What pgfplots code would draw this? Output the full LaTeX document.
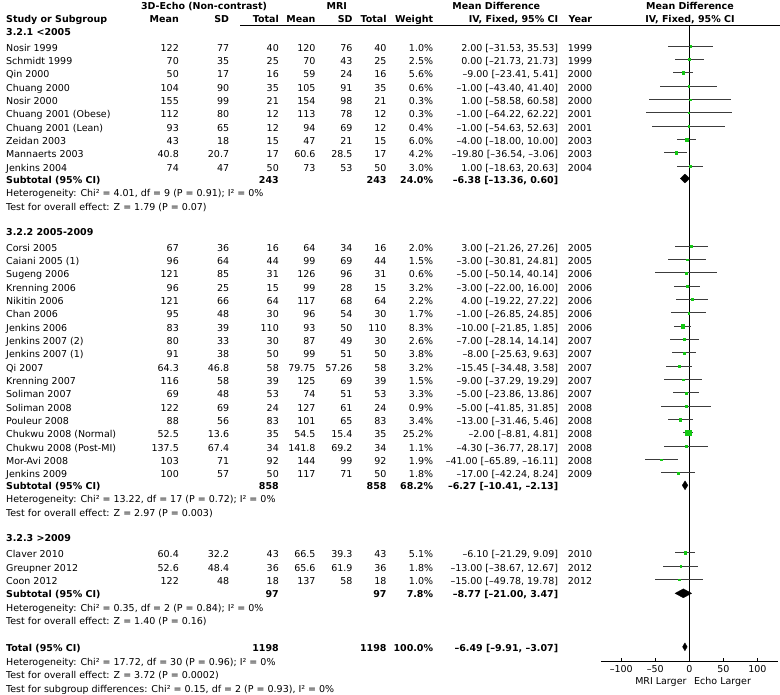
\documentclass[border=0pt]{standalone}
\usepackage{fontspec}
\setmainfont{DejaVu Sans}
\usepackage{pgfplots}
\pgfplotsset{compat=1.18}
\usepackage{pgfplotstable}
\definecolor{mkgreen}{RGB}{20,200,20}
\definecolor{cigray}{RGB}{60,60,60}

% y = row position (pixels from top), md = mean difference, lo/hi = 95% CI, w = weight (%)
\pgfplotstableread{
y md lo hi w
46.2 2.00 -31.53 35.53 1.0
59.5 0.00 -21.73 21.73 2.5
72.8 -9.00 -23.41 5.41 5.6
86.2 -1.00 -43.40 41.40 0.6
99.5 1.00 -58.58 60.58 0.3
112.8 -1.00 -64.22 62.22 0.3
126.2 -1.00 -54.63 52.63 0.4
139.5 -4.00 -18.00 10.00 6.0
152.8 -19.80 -36.54 -3.06 4.2
166.2 1.00 -18.63 20.63 3.0
246.2 3.00 -21.26 27.26 2.0
259.5 -3.00 -30.81 24.81 1.5
272.8 -5.00 -50.14 40.14 0.6
286.2 -3.00 -22.00 16.00 3.2
299.5 4.00 -19.22 27.22 2.2
312.8 -1.00 -26.85 24.85 1.7
326.2 -10.00 -21.85 1.85 8.3
339.5 -7.00 -28.14 14.14 2.6
352.8 -8.00 -25.63 9.63 3.8
366.2 -15.45 -34.48 3.58 3.2
379.5 -9.00 -37.29 19.29 1.5
392.8 -5.00 -23.86 13.86 3.3
406.2 -5.00 -41.85 31.85 0.9
419.5 -13.00 -31.46 5.46 3.4
432.8 -2.00 -8.81 4.81 25.2
446.2 -4.30 -36.77 28.17 1.1
459.5 -41.00 -65.89 -16.11 1.9
472.8 -17.00 -42.24 8.24 1.8
552.8 -6.10 -21.29 9.09 5.1
566.2 -13.00 -38.67 12.67 1.8
579.5 -15.00 -49.78 19.78 1.0
}\studies

\newcommand\fs{\fontsize{9.5bp}{11bp}\selectfont}
\newcommand\Lt[3]{\node[anchor=base west] at ({#1},{-(#2)-3.5}) {#3};}
\newcommand\Rt[3]{\node[anchor=base east] at ({#1},{-(#2)-3.5}) {#3};}
\newcommand\Ct[3]{\node[anchor=base] at ({#1},{-(#2)-3.5}) {#3};}
\newcommand\st[8]{\Lt{6}{#1}{#2}\Rt{179}{#1}{#3}\Rt{229.3}{#1}{#4}\Rt{279}{#1}{#5}\Rt{315.7}{#1}{#6}\Rt{352.7}{#1}{#7}\Rt{386.7}{#1}{#8}}
\newcommand\sw[4]{\Rt{433.3}{#1}{#2}\Rt{558.3}{#1}{#3}\Rt{592.3}{#1}{#4}}
\newcommand\sub[5]{\Lt{6}{#1}{\bfseries #2}\Rt{279}{#1}{\bfseries #3}\Rt{386.7}{#1}{\bfseries #3}\Rt{433.3}{#1}{\bfseries #4}\Rt{558.3}{#1}{\bfseries #5}}

\begin{document}
\begin{tikzpicture}[x=1bp,y=1bp,every node/.style={inner sep=0pt,font=\fs}]
\path[use as bounding box] (0,0) rectangle (780,-695);

% headers
\Ct{204}{5.7}{\bfseries 3D-Echo (Non-contrast)}
\Ct{336.7}{5.7}{\bfseries MRI}
\Ct{496.3}{5.7}{\bfseries Mean Difference}
\Ct{690}{5.7}{\bfseries Mean Difference}
\Lt{6}{19}{\bfseries Study or Subgroup}
\Rt{179}{19}{\bfseries Mean}
\Rt{229.3}{19}{\bfseries SD}
\Rt{279}{19}{\bfseries Total}
\Rt{315.7}{19}{\bfseries Mean}
\Rt{352.7}{19}{\bfseries SD}
\Rt{386.7}{19}{\bfseries Total}
\Rt{433.3}{19}{\bfseries Weight}
\Rt{558.3}{19}{\bfseries IV, Fixed, 95\% CI}
\Rt{592.3}{19}{\bfseries Year}
\Ct{690}{19}{\bfseries IV, Fixed, 95\% CI}
\draw[black, line width=0.8bp] (240,-25.7) -- (780,-25.7);

% group 1
\Lt{6}{32.3}{\bfseries 3.2.1 <2005}
\st{47.7}{Nosir 1999}{122}{77}{40}{120}{76}{40}\sw{47.7}{1.0\%}{2.00 [–31.53, 35.53]}{1999}
\st{61.0}{Schmidt 1999}{70}{35}{25}{70}{43}{25}\sw{61.0}{2.5\%}{0.00 [–21.73, 21.73]}{1999}
\st{74.3}{Qin 2000}{50}{17}{16}{59}{24}{16}\sw{74.3}{5.6\%}{–9.00 [–23.41, 5.41]}{2000}
\st{87.7}{Chuang 2000}{104}{90}{35}{105}{91}{35}\sw{87.7}{0.6\%}{–1.00 [–43.40, 41.40]}{2000}
\st{101.0}{Nosir 2000}{155}{99}{21}{154}{98}{21}\sw{101.0}{0.3\%}{1.00 [–58.58, 60.58]}{2000}
\st{114.3}{Chuang 2001 (Obese)}{112}{80}{12}{113}{78}{12}\sw{114.3}{0.3\%}{–1.00 [–64.22, 62.22]}{2001}
\st{127.7}{Chuang 2001 (Lean)}{93}{65}{12}{94}{69}{12}\sw{127.7}{0.4\%}{–1.00 [–54.63, 52.63]}{2001}
\st{141.0}{Zeidan 2003}{43}{18}{15}{47}{21}{15}\sw{141.0}{6.0\%}{–4.00 [–18.00, 10.00]}{2003}
\st{154.3}{Mannaerts 2003}{40.8}{20.7}{17}{60.6}{28.5}{17}\sw{154.3}{4.2\%}{–19.80 [–36.54, –3.06]}{2003}
\st{167.7}{Jenkins 2004}{74}{47}{50}{73}{53}{50}\sw{167.7}{3.0\%}{1.00 [–18.63, 20.63]}{2004}
\sub{179.5}{Subtotal (95\% CI)}{243}{24.0\%}{–6.38 [–13.36, 0.60]}
\Lt{6}{193.3}{Heterogeneity: Chi² = 4.01, df = 9 (P = 0.91); I² = 0\%}
\Lt{6}{206.7}{Test for overall effect: Z = 1.79 (P = 0.07)}

% group 2
\Lt{6}{232.3}{\bfseries 3.2.2 2005-2009}
\st{247.7}{Corsi 2005}{67}{36}{16}{64}{34}{16}\sw{247.7}{2.0\%}{3.00 [–21.26, 27.26]}{2005}
\st{261.0}{Caiani 2005 (1)}{96}{64}{44}{99}{69}{44}\sw{261.0}{1.5\%}{–3.00 [–30.81, 24.81]}{2005}
\st{274.3}{Sugeng 2006}{121}{85}{31}{126}{96}{31}\sw{274.3}{0.6\%}{–5.00 [–50.14, 40.14]}{2006}
\st{287.7}{Krenning 2006}{96}{25}{15}{99}{28}{15}\sw{287.7}{3.2\%}{–3.00 [–22.00, 16.00]}{2006}
\st{301.0}{Nikitin 2006}{121}{66}{64}{117}{68}{64}\sw{301.0}{2.2\%}{4.00 [–19.22, 27.22]}{2006}
\st{314.3}{Chan 2006}{95}{48}{30}{96}{54}{30}\sw{314.3}{1.7\%}{–1.00 [–26.85, 24.85]}{2006}
\st{327.7}{Jenkins 2006}{83}{39}{110}{93}{50}{110}\sw{327.7}{8.3\%}{–10.00 [–21.85, 1.85]}{2006}
\st{341.0}{Jenkins 2007 (2)}{80}{33}{30}{87}{49}{30}\sw{341.0}{2.6\%}{–7.00 [–28.14, 14.14]}{2007}
\st{354.3}{Jenkins 2007 (1)}{91}{38}{50}{99}{51}{50}\sw{354.3}{3.8\%}{–8.00 [–25.63, 9.63]}{2007}
\st{367.7}{Qi 2007}{64.3}{46.8}{58}{79.75}{57.26}{58}\sw{367.7}{3.2\%}{–15.45 [–34.48, 3.58]}{2007}
\st{381.0}{Krenning 2007}{116}{58}{39}{125}{69}{39}\sw{381.0}{1.5\%}{–9.00 [–37.29, 19.29]}{2007}
\st{394.3}{Soliman 2007}{69}{48}{53}{74}{51}{53}\sw{394.3}{3.3\%}{–5.00 [–23.86, 13.86]}{2007}
\st{407.7}{Soliman 2008}{122}{69}{24}{127}{61}{24}\sw{407.7}{0.9\%}{–5.00 [–41.85, 31.85]}{2008}
\st{421.0}{Pouleur 2008}{88}{56}{83}{101}{65}{83}\sw{421.0}{3.4\%}{–13.00 [–31.46, 5.46]}{2008}
\st{434.3}{Chukwu 2008 (Normal)}{52.5}{13.6}{35}{54.5}{15.4}{35}\sw{434.3}{25.2\%}{–2.00 [–8.81, 4.81]}{2008}
\st{447.7}{Chukwu 2008 (Post-MI)}{137.5}{67.4}{34}{141.8}{69.2}{34}\sw{447.7}{1.1\%}{–4.30 [–36.77, 28.17]}{2008}
\st{461.0}{Mor-Avi 2008}{103}{71}{92}{144}{99}{92}\sw{461.0}{1.9\%}{–41.00 [–65.89, –16.11]}{2008}
\st{474.3}{Jenkins 2009}{100}{57}{50}{117}{71}{50}\sw{474.3}{1.8\%}{–17.00 [–42.24, 8.24]}{2009}
\sub{486}{Subtotal (95\% CI)}{858}{68.2\%}{–6.27 [–10.41, –2.13]}
\Lt{6}{499.3}{Heterogeneity: Chi² = 13.22, df = 17 (P = 0.72); I² = 0\%}
\Lt{6}{512.7}{Test for overall effect: Z = 2.97 (P = 0.003)}

% group 3
\Lt{6}{538.3}{\bfseries 3.2.3 >2009}
\st{554.3}{Claver 2010}{60.4}{32.2}{43}{66.5}{39.3}{43}\sw{554.3}{5.1\%}{–6.10 [–21.29, 9.09]}{2010}
\st{567.7}{Greupner 2012}{52.6}{48.4}{36}{65.6}{61.9}{36}\sw{567.7}{1.8\%}{–13.00 [–38.67, 12.67]}{2012}
\st{581.0}{Coon 2012}{122}{48}{18}{137}{58}{18}\sw{581.0}{1.0\%}{–15.00 [–49.78, 19.78]}{2012}
\sub{594}{Subtotal (95\% CI)}{97}{7.8\%}{–8.77 [–21.00, 3.47]}
\Lt{6}{607.5}{Heterogeneity: Chi² = 0.35, df = 2 (P = 0.84); I² = 0\%}
\Lt{6}{621}{Test for overall effect: Z = 1.40 (P = 0.16)}

% total
\sub{648}{Total (95\% CI)}{1198}{100.0\%}{–6.49 [–9.91, –3.07]}
\Lt{6}{661.7}{Heterogeneity: Chi² = 17.72, df = 30 (P = 0.96); I² = 0\%}
\Lt{6}{675}{Test for overall effect: Z = 3.72 (P = 0.0002)}
\Lt{6}{688.7}{Test for subgroup differences: Chi² = 0.15, df = 2 (P = 0.93), I² = 0\%}

\Rt{686.7}{680.7}{MRI Larger}
\Lt{694}{680.7}{Echo Larger}

\begin{axis}[
  at={(600.9bp,-661bp)}, anchor=south west,
  scale only axis, width=176.8bp, height=635bp,
  xmin=-130, xmax=130, ymin=-661, ymax=-26,
  axis x line=bottom, axis y line=none,
  axis line style={-, black, line width=0.8bp},
  xtick={-100,-50,0,50,100},
  xticklabels={–100,–50,0,50,100},
  tick align=inside, major tick length=3bp,
  tick style={black, line width=0.8bp},
  xticklabel style={font=\fs, inner sep=0pt, yshift=-4.5bp},
  clip=false,
]
% line of no effect
\addplot[black, line width=0.9bp, forget plot] coordinates {(0,-26) (0,-661)};
% confidence intervals
\addplot[draw=none, no markers, forget plot,
  error bars/.cd, x dir=both, x explicit, error mark=none,
  error bar style={draw=cigray, line width=0.9bp}]
  table[x=md, y expr=-\thisrow{y},
        x error plus expr=\thisrow{hi}-\thisrow{md},
        x error minus expr=\thisrow{md}-\thisrow{lo}] {\studies};
% study estimates, size by weight
\addplot[scatter, only marks, mark=square*, color=mkgreen,
  mark options={draw=mkgreen, fill=mkgreen, line width=0.2bp},
  visualization depends on={\thisrow{w} \as \wt},
  scatter/use mapped color={draw=mkgreen, fill=mkgreen},
  scatter/@pre marker code/.append style={/tikz/mark size={max(0.8,0.5*sqrt(\wt)+0.2)}}]
  table[x=md, y expr=-\thisrow{y}] {\studies};
% subtotal and total diamonds
\addplot[fill=black, draw=black, line width=0.3bp] coordinates {(-13.36,-178.5) (-6.38,-174) (0.60,-178.5) (-6.38,-183)} --cycle;
\addplot[fill=black, draw=black, line width=0.3bp] coordinates {(-10.41,-485.3) (-6.27,-480.8) (-2.13,-485.3) (-6.27,-489.8)} --cycle;
\addplot[fill=black, draw=black, line width=0.3bp] coordinates {(-21.00,-593.3) (-8.77,-588.8) (3.47,-593.3) (-8.77,-597.8)} --cycle;
\addplot[fill=black, draw=black, line width=0.3bp] coordinates {(-9.91,-646.8) (-6.49,-642.8) (-3.07,-646.8) (-6.49,-650.8)} --cycle;
\end{axis}
\end{tikzpicture}
\end{document}
